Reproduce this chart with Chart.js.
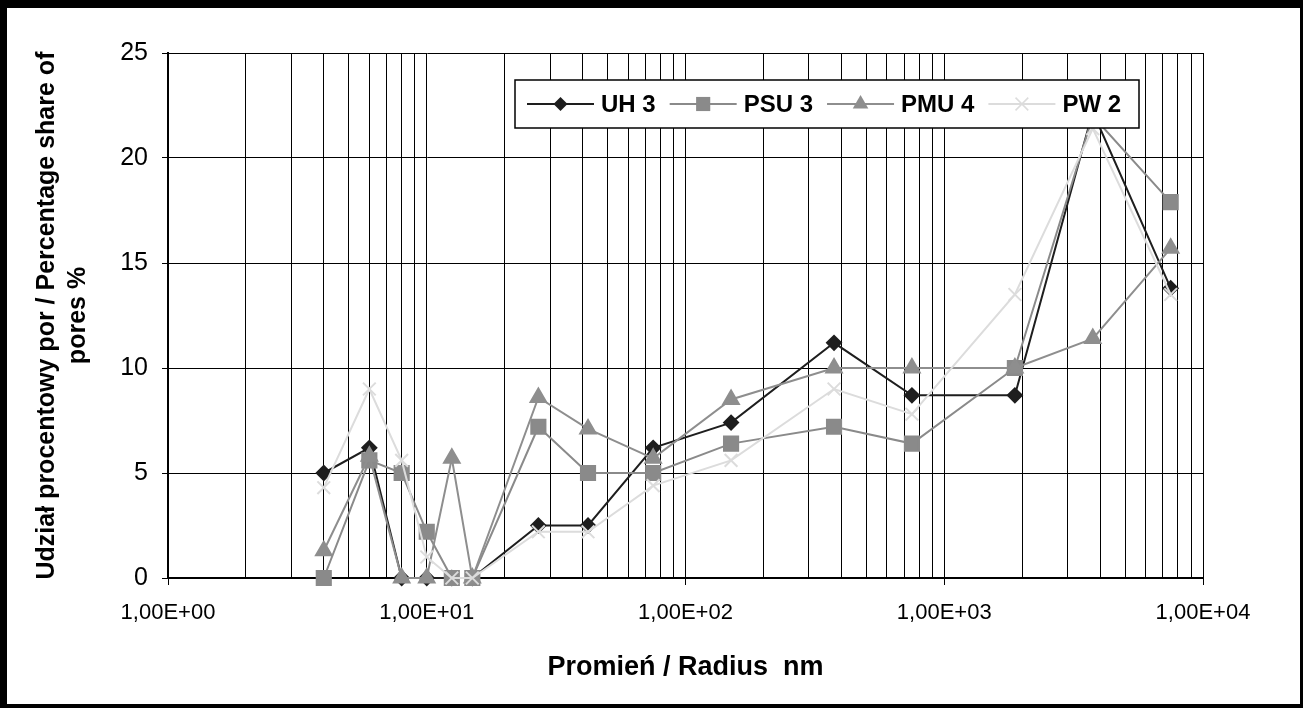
<!DOCTYPE html>
<html>
<head>
<meta charset="utf-8">
<script src="https://cdn.jsdelivr.net/npm/chart.js"></script>
<style>
  html, body { margin: 0; padding: 0; background: #fff; }
  #wrap { position: relative; width: 1303px; height: 708px; }
  #frame {
    position: absolute; left: 0; top: 0; width: 1303px; height: 708px; box-sizing: border-box;
    border-style: solid; border-color: #000; border-width: 8px 3px 4px 7px; pointer-events: none;
  }
</style>
</head>
<body>
<div id="wrap">
  <canvas id="chart" width="1303" height="708"></canvas>
  <div id="frame"></div>
</div>
<script>
// pore radius classes, nm
var radius = [4, 6, 8, 10, 12.5, 15, 27, 42, 75, 150, 375, 750, 1875, 3750, 7500];

// percentage share of pores
var uh3  = [5.0, 6.2, 0,   0,   0,   0, 2.5, 2.5, 6.2, 7.4, 11.2, 8.7,  8.7, 22.2, 13.8];
var psu3 = [0,   5.6, 5.0, 2.2, 0,   0, 7.2, 5.0, 5.0, 6.4, 7.2,  6.4, 10.0, 22.0, 17.9];
var pmu4 = [1.3, 5.8, 0,   0,   5.7, 0, 8.6, 7.1, 5.7, 8.5, 10.0, 10.0, 10.0, 11.4, 15.7];
var pw2  = [4.3, 9.0, 5.6, 1.0, 0,   0, 2.2, 2.2, 4.4, 5.6, 9.0,  7.8, 13.5, 21.4, 13.5];

var seriesNames = ['UH 3', 'PSU 3', 'PMU 4', 'PW 2'];
var yTitle = ['Udział procentowy por / Percentage share of', 'pores %'];
var xTitle = 'Promień / Radius  nm';

function pairs(values){
    var out = [];
    for (var i = 0; i < radius.length; i++) out.push({x: radius[i], y: values[i]});
    return out;
}

// log grid: 1..9 in every decade
var xTickValues = [];
for (var e = 0; e < 4; e++) {
    for (var s = 1; s < 10; s++) xTickValues.push(s * Math.pow(10, e));
}
xTickValues.push(10000);

function isDecade(v){
    var l = Math.log10(v);
    return Math.abs(l - Math.round(l)) < 1e-9;
}

function drawMarker(ctx, style, x, y, r, color){
    ctx.save();
    ctx.fillStyle = color;
    ctx.strokeStyle = color;
    ctx.lineWidth = 1.5;
    ctx.beginPath();
    if (style === 'rectRot') {
        ctx.moveTo(x, y - r); ctx.lineTo(x + r, y); ctx.lineTo(x, y + r); ctx.lineTo(x - r, y); ctx.closePath(); ctx.fill();
    } else if (style === 'rect') {
        var h = r * Math.SQRT1_2;
        ctx.rect(x - h, y - h, 2 * h, 2 * h); ctx.fill();
    } else if (style === 'triangle') {
        ctx.moveTo(x, y - r); ctx.lineTo(x + r * 0.866, y + r * 0.5); ctx.lineTo(x - r * 0.866, y + r * 0.5); ctx.closePath(); ctx.fill();
    } else {
        var d = r * Math.SQRT1_2;
        ctx.moveTo(x - d, y - d); ctx.lineTo(x + d, y + d);
        ctx.moveTo(x + d, y - d); ctx.lineTo(x - d, y + d); ctx.stroke();
    }
    ctx.restore();
}

// legend box drawn inside the plot, over the lines
var boxLegend = {
    id: 'boxLegend',
    afterDraw: function(chart){
        var ctx = chart.ctx;
        ctx.save();
        ctx.fillStyle = '#fff';
        ctx.fillRect(515, 80, 624, 48);
        ctx.strokeStyle = '#000';
        ctx.lineWidth = 1.5;
        ctx.strokeRect(515, 80, 624, 48);
        ctx.font = 'bold 24px "Liberation Sans", Arial, sans-serif';
        ctx.textBaseline = 'middle';
        var x = 527, y = 104;
        chart.data.datasets.forEach(function(ds){
            ctx.strokeStyle = ds.borderColor;
            ctx.lineWidth = 2;
            ctx.beginPath(); ctx.moveTo(x, y); ctx.lineTo(x + 67, y); ctx.stroke();
            drawMarker(ctx, ds.pointStyle, x + 33.5, y, ds.pointRadius, ds.pointBorderColor || ds.borderColor);
            ctx.fillStyle = '#000';
            ctx.fillText(ds.label, x + 74, y + 1);
            x += 74 + ctx.measureText(ds.label).width + 14;
        });
        ctx.restore();
    }
};

new Chart(document.getElementById('chart').getContext('2d'), {
    type: 'line',
    data: {
        datasets: [{
            label: seriesNames[0],
            data: pairs(uh3),
            borderColor: '#1e1e1e',
            backgroundColor: '#1e1e1e',
            pointStyle: 'rectRot',
            pointRadius: 7,
            borderWidth: 2,
            order: 4
        },{
            label: seriesNames[1],
            data: pairs(psu3),
            borderColor: '#8a8a8a',
            backgroundColor: '#8a8a8a',
            pointStyle: 'rect',
            pointRadius: 10,
            borderWidth: 2,
            order: 3
        },{
            label: seriesNames[2],
            data: pairs(pmu4),
            borderColor: '#8e8e8e',
            backgroundColor: '#8e8e8e',
            pointStyle: 'triangle',
            pointRadius: 9,
            borderWidth: 2,
            order: 2
        },{
            label: seriesNames[3],
            data: pairs(pw2),
            borderColor: '#dcdcdc',
            backgroundColor: '#dcdcdc',
            pointStyle: 'crossRot',
            pointRadius: 9,
            pointBorderWidth: 2,
            borderWidth: 2,
            order: 1
        }].map(function(ds){ ds.fill = false; ds.tension = 0; ds.clip = false; return ds; })
    },
    options: {
        responsive: false,
        animation: false,
        layout: { padding: { left: 8, right: 100, top: 53, bottom: 4 } },
        plugins: { legend: { display: false }, tooltip: { enabled: false } },
        scales: {
            x: {
                type: 'logarithmic',
                min: 1,
                max: 10000,
                afterBuildTicks: function(scale){
                    scale.ticks = xTickValues.map(function(v){ return {value: v, major: isDecade(v)}; });
                },
                afterFit: function(scale){ scale.height = 126; },
                grid: {
                    color: '#000',
                    lineWidth: 1,
                    tickLength: 7,
                    tickColor: function(c){ return c.tick && isDecade(c.tick.value) ? '#000' : 'rgba(0,0,0,0)'; }
                },
                border: { color: '#000', width: 2 },
                ticks: {
                    autoSkip: false,
                    maxRotation: 0,
                    padding: 15,
                    color: '#000',
                    font: { family: '"Liberation Sans", Arial, sans-serif', size: 22 },
                    callback: function(v){
                        return isDecade(v) ? '1,00E+0' + Math.round(Math.log10(v)) : '';
                    }
                },
                title: {
                    display: true,
                    text: xTitle,
                    color: '#000',
                    font: { family: '"Liberation Sans", Arial, sans-serif', size: 27, weight: 'bold' },
                    padding: { top: 0, bottom: 20 }
                }
            },
            y: {
                min: 0,
                max: 25,
                afterFit: function(scale){ scale.width = 160; },
                grid: { color: '#000', lineWidth: 1, tickLength: 6, tickColor: '#000' },
                border: { color: '#000', width: 2 },
                ticks: {
                    stepSize: 5,
                    padding: 14,
                    color: '#000',
                    font: { family: '"Liberation Sans", Arial, sans-serif', size: 25 }
                },
                title: {
                    display: true,
                    text: yTitle,
                    color: '#000',
                    font: { family: '"Liberation Sans", Arial, sans-serif', size: 25, weight: 'bold', lineHeight: 1.25 },
                    padding: { top: 23, bottom: 0 }
                }
            }
        }
    },
    plugins: [boxLegend]
});
</script>
</body>
</html>
